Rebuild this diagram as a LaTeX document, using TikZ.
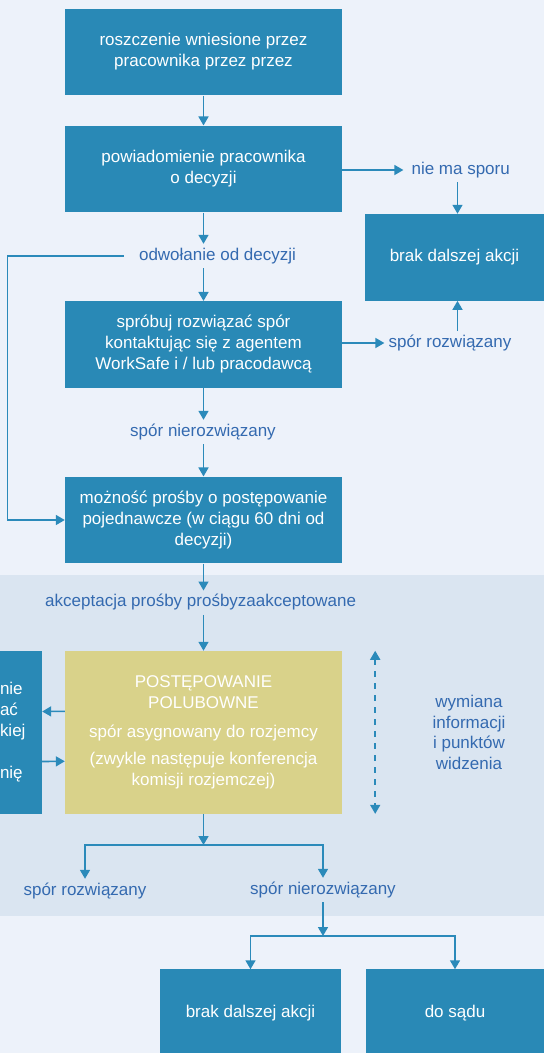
\documentclass[tikz,border=0pt]{standalone}
\usepackage{fontspec}
\setmainfont{Liberation Sans}
\usetikzlibrary{arrows.meta}
\definecolor{tlo}{RGB}{237,242,250}
\definecolor{pas}{RGB}{218,229,241}
\definecolor{niebieski}{RGB}{41,137,182}
\definecolor{strzalka}{RGB}{43,138,186}
\definecolor{etykieta}{RGB}{52,106,176}
\definecolor{zolty}{RGB}{217,210,138}
\begin{document}
\begin{tikzpicture}[x=1pt, y=-1pt,
    krok/.style={fill=niebieski, text=white, inner sep=0, align=center,
        minimum width=277pt, minimum height=86.7pt, font=\fontsize{17}{21}\selectfont},
    etyk/.style={text=etykieta, inner xsep=4pt, inner ysep=4pt, text height=12pt,
        text depth=4pt, font=\fontsize{17}{21}\selectfont},
    strz/.style={draw=strzalka, line width=1.6pt, -{Triangle[length=9pt,width=10pt]}}]

    % Tlo
    \useasboundingbox (0,0) rectangle (544,1053);
    \fill[tlo] (0,0) rectangle (544,1053);
    \fill[pas] (0,575) rectangle (544,916);

    % Kroki
    \node[krok] (zgl) at (203.5,52) {roszczenie wniesione przez\\pracownika przez przez};
    \node[krok] (pow) at (203.5,169) {powiadomienie pracownika\\o decyzji};
    \node[krok] (sprob) at (203.5,344.5) {spróbuj rozwiązać spór\\kontaktując się z agentem\\WorkSafe i / lub pracodawcą};
    \node[krok] (mozn) at (203.5,520) {możność prośby o postępowanie\\pojednawcze (w ciągu 60 dni od\\decyzji)};
    \node[krok, minimum width=179pt] (brak1) at (454.5,257.3) {brak dalszej akcji};
    \node[krok, fill=zolty, minimum height=162.7pt] (polub) at (203.5,732.3)
        {POSTĘPOWANIE\\POLUBOWNE\\[8pt]spór asygnowany do rozjemcy\\[6pt](zwykle następuje konferencja\\komisji rozjemczej)};
    \node[krok, minimum width=42pt, text width=42pt, align=left, minimum height=163pt] (bok) at (21,732.5)
        {nie\\ać\\kiej\\[21pt]nię};
    \node[krok, minimum width=181pt] (brak2) at (250.5,1012.8) {brak dalszej akcji};
    \node[krok, minimum width=178pt] (sad) at (455,1012.8) {do sądu};

    % Etykiety
    \node[etyk, inner xsep=8pt] (nms) at (460.7,170) {nie ma sporu};
    \node[etyk, inner xsep=15pt] (odw) at (217.5,256) {odwołanie od decyzji};
    \node[etyk] (roz1) at (450,343) {spór rozwiązany};
    \node[etyk] (nroz1) at (203,432) {spór nierozwiązany};
    \node[etyk] (akc) at (200.7,602.7) {akceptacja prośby prośbyzaakceptowane};
    \node[etyk] (roz2) at (85,891) {spór rozwiązany};
    \node[etyk] (nroz2) at (323,890) {spór nierozwiązany};
    \node[text=etykieta, align=center, font=\fontsize{17}{20.5}\selectfont] (wym) at (469,732.5)
        {wymiana\\informacji\\i punktów\\widzenia};

    % Strzalki
    \draw[strz] (zgl) -- (pow);
    \draw[strz] (pow.east |- nms.west) -- (nms.west);
    \draw[strz] ([xshift=3pt]brak1.north |- nms.south) -- ([xshift=3pt]brak1.north);
    \draw[strz] (pow) -- (pow.south |- odw.north);
    \draw[strz] (pow.south |- odw.south) -- (sprob);
    \coordinate (petla) at (7.5,0);
    \draw[strz] (odw.west) -- (odw.west -| petla) |- (mozn.west);
    \draw[strz] (sprob.east |- roz1.west) -- (roz1.west);
    \draw[strz] ([xshift=3pt]brak1.south |- roz1.north) -- ([xshift=3pt]brak1.south);
    \draw[strz] (sprob) -- (sprob.south |- nroz1.north);
    \draw[strz] (sprob.south |- nroz1.south) -- (mozn);
    \draw[strz] (mozn) -- (mozn.south |- akc.north);
    \draw[strz] (mozn.south |- akc.south) -- (polub);
    \draw[strz] ([yshift=21pt]polub.west) -- ([yshift=21pt]bok.east);
    \draw[strz] ([yshift=-29pt]bok.east) -- ([yshift=-29pt]polub.west);
    \draw[strz, {Triangle[length=9pt,width=10pt]}-{Triangle[length=9pt,width=10pt]}, dash pattern=on 6pt off 6pt]
        ([xshift=33pt]polub.north east) -- ([xshift=33pt]polub.south east);

    % Rozgalezienia
    \coordinate (rozg1) at (203.5,845);
    \draw[strz] (polub) -- (rozg1);
    \draw[strz] (rozg1) -| (roz2.north);
    \draw[strz] (rozg1) -| (nroz2.north);
    \coordinate (rozg2) at (323,936);
    \draw[strz] (nroz2) -- (rozg2);
    \draw[strz] (rozg2) -| (brak2.north);
    \draw[strz] (rozg2) -| (sad.north);
\end{tikzpicture}
\end{document}
